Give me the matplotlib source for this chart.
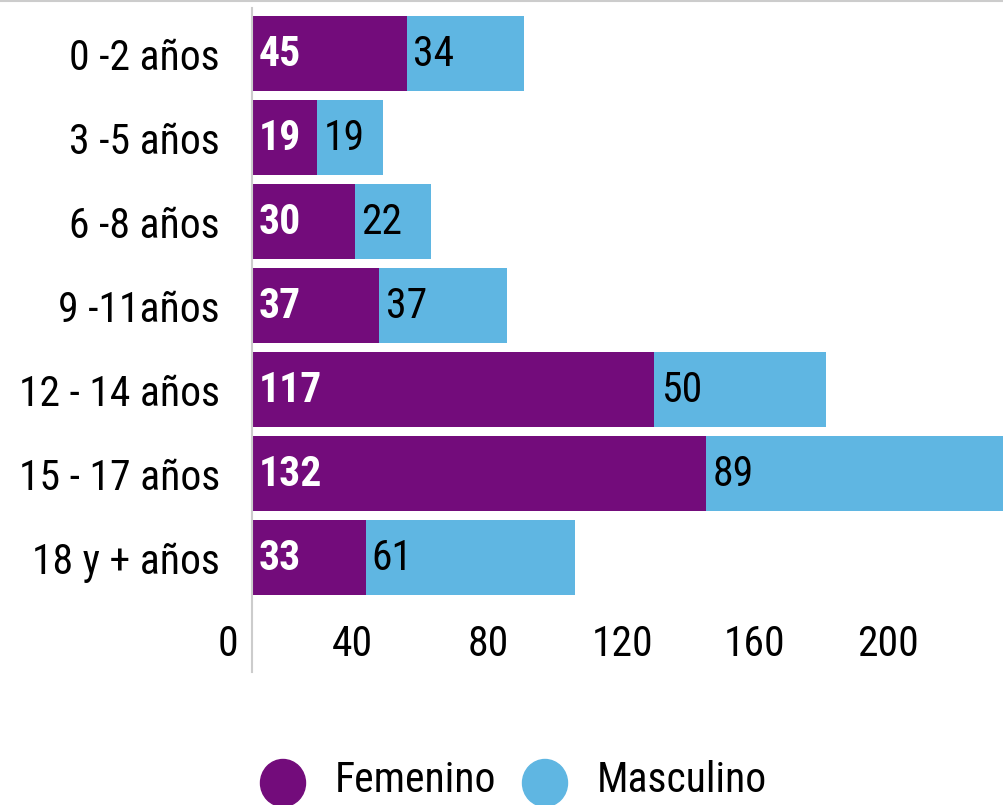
import matplotlib.pyplot as plt
from matplotlib.patches import Ellipse
from matplotlib.lines import Line2D
import matplotlib.transforms as mtransforms

plt.rcParams['font.family'] = ['Roboto Condensed', 'Liberation Sans Narrow', 'Roboto', 'DejaVu Sans']

#------------- data -------------#
categories = ['0 -2 años', '3 -5 años', '6 -8 años', '9 -11años',
              '12 - 14 años', '15 - 17 años', '18 y + años']
femenino = [45, 19, 30, 37, 117, 132, 33]
masculino = [34, 19, 22, 37, 50, 89, 61]
series_names = ['Femenino', 'Masculino']
colors = ['#730c7b', '#5fb6e2']
tick_labels = ['0', '40', '80', '120', '160', '200']
# the axis labels in the source sit a bit left of their true values
tick_label_pos = [-7.0, 29.1, 68.6, 107.6, 146.2, 184.9]

W, H = 1004, 805
fig = plt.figure(figsize=(W / 100, H / 100), dpi=100)
ax = fig.add_axes([252 / W, (H - 672) / H, 1 - 252 / W, 664 / H])

ypos = list(range(len(categories)))
ax.barh(ypos, femenino, height=0.893, color=colors[0])
ax.barh(ypos, masculino, left=femenino, height=0.893, color=colors[1])

for y, f, m in zip(ypos, femenino, masculino):
    ax.annotate(str(f), xy=(0, y), xytext=(4.5, -1), textcoords='offset points',
                va='center', ha='left', color='white', fontsize=30, fontweight='bold')
    ax.annotate(str(m), xy=(f, y), xytext=(4.5, -1), textcoords='offset points',
                va='center', ha='left', color='black', fontsize=30)

ax.set_xlim(0, 218.6)
ax.set_ylim(7.363, -0.542)
ax.set_yticks(ypos)
ax.set_yticklabels(categories, fontsize=30)
ax.tick_params(axis='y', length=0, pad=23)
ax.set_xticks([])

trans = mtransforms.blended_transform_factory(ax.transData, fig.transFigure)
for p, lab in zip(tick_label_pos, tick_labels):
    ax.text(p, 1 - 645 / H, lab, transform=trans, ha='center', va='center',
            fontsize=30, clip_on=False)

for s in ['top', 'right', 'bottom']:
    ax.spines[s].set_visible(False)
ax.spines['left'].set_color('#cccccc')
ax.spines['left'].set_linewidth(1.5)

# top border line
fig.add_artist(Line2D([0, 1], [1 - 1 / H, 1 - 1 / H], color='#cccccc', lw=1.5,
                      transform=fig.transFigure))

# legend
leg_x = [283, 545]
for x, name, c in zip(leg_x, series_names, colors):
    fig.add_artist(Ellipse((x / W, 1 - 783 / H), 45 / W, 47 / H, color=c,
                           transform=fig.transFigure))
    fig.text((x + 52) / W, 1 - 780 / H, name, ha='left', va='center', fontsize=30)

fig.savefig('out.png', dpi=100)
